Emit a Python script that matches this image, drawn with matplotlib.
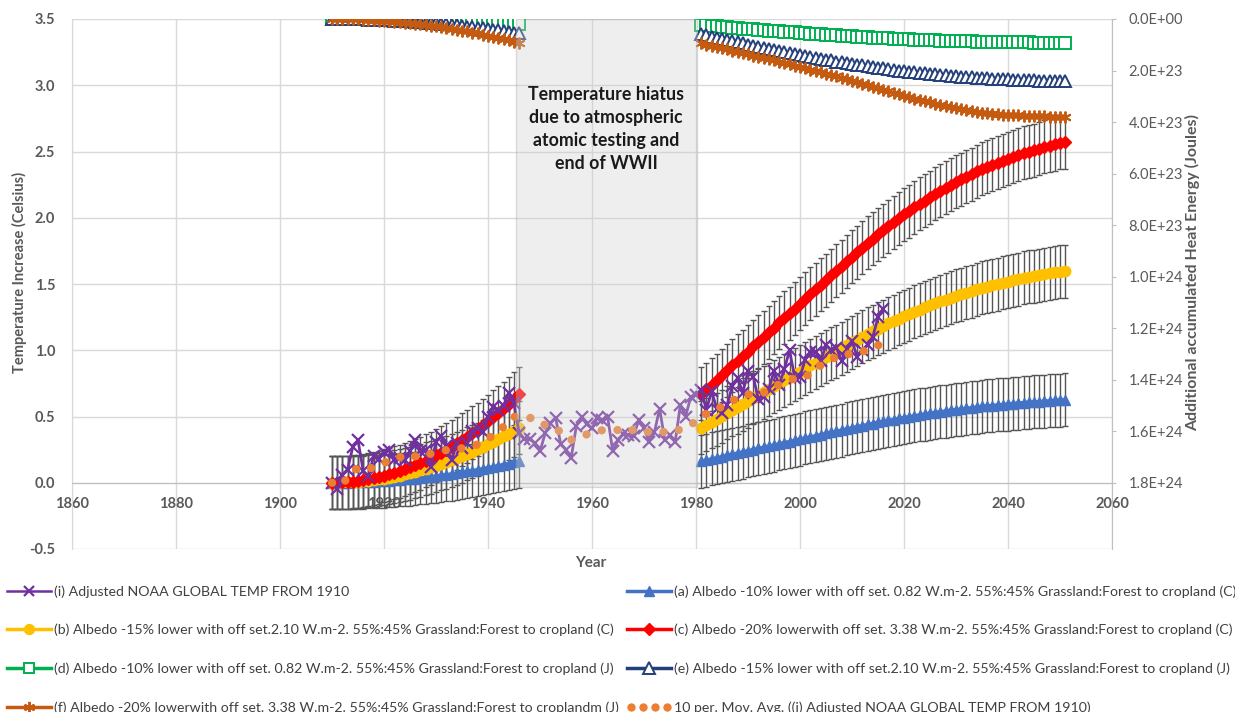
import numpy as np
import pandas as pd
import matplotlib
matplotlib.use("Agg")
import matplotlib.pyplot as plt
from matplotlib.lines import Line2D
from matplotlib.patches import Rectangle
from matplotlib.legend_handler import HandlerLine2D

plt.rcParams['font.family'] = ['Lato', 'DejaVu Sans']

# ------------------------------------------------------------------ data
noaa_years = list(range(1910, 2017))
noaa_temp = [
    0.00, -0.05, 0.06, 0.10, 0.27, 0.32, 0.09, 0.05, 0.20, 0.18,
    0.23, 0.25, 0.17, 0.19, 0.17, 0.24, 0.32, 0.24, 0.25, 0.12,
    0.31, 0.35, 0.28, 0.17, 0.30, 0.26, 0.30, 0.39, 0.41, 0.38,
    0.50, 0.575, 0.55, 0.58, 0.68, 0.60, 0.375, 0.33, 0.33, 0.30,
    0.236, 0.375, 0.45, 0.49, 0.29, 0.25, 0.19, 0.43, 0.50, 0.44,
    0.41, 0.49, 0.47, 0.50, 0.236, 0.32, 0.37, 0.36, 0.35, 0.475,
    0.41, 0.31, 0.38, 0.56, 0.32, 0.36, 0.31, 0.59, 0.50, 0.65,
    0.66, 0.70, 0.55, 0.69, 0.56, 0.53, 0.59, 0.73, 0.79, 0.68,
    0.84, 0.80, 0.63, 0.65, 0.71, 0.84, 0.74, 0.86, 1.00, 0.79,
    0.80, 0.93, 0.99, 0.99, 0.92, 1.04, 1.00, 1.02, 0.92, 1.01,
    1.07, 0.95, 1.00, 1.04, 1.10, 1.25, 1.31,
]
ma_window = 10

model_years_early = list(range(1910, 1947))
model_years_late = list(range(1981, 2052))

# (c) Albedo -20%  (Celsius)
temp_c_early = [
    0.000, 0.001, 0.003, 0.005, 0.008, 0.013, 0.019, 0.025, 0.033, 0.042,
    0.052, 0.063, 0.074, 0.087, 0.101, 0.116, 0.132, 0.149, 0.167, 0.186,
    0.207, 0.228, 0.250, 0.273, 0.298, 0.323, 0.349, 0.377, 0.405, 0.435,
    0.465, 0.497, 0.529, 0.563, 0.598, 0.633, 0.670,
]
temp_c_late = [
    0.670, 0.705, 0.740, 0.775, 0.810, 0.850, 0.885, 0.920, 0.955, 0.990,
    1.030, 1.065, 1.100, 1.135, 1.170, 1.210, 1.245, 1.280, 1.315, 1.350,
    1.390, 1.425, 1.460, 1.495, 1.530, 1.565, 1.600, 1.635, 1.670, 1.705,
    1.740, 1.775, 1.810, 1.840, 1.875, 1.905, 1.935, 1.965, 1.995, 2.025,
    2.050, 2.080, 2.105, 2.130, 2.155, 2.180, 2.205, 2.225, 2.250, 2.270,
    2.290, 2.310, 2.330, 2.350, 2.370, 2.385, 2.400, 2.415, 2.430, 2.445,
    2.460, 2.475, 2.490, 2.500, 2.510, 2.520, 2.535, 2.545, 2.555, 2.565,
    2.570,
]
# (b) Albedo -15%  (Celsius)
temp_b_early = [
    0.000, 0.001, 0.002, 0.003, 0.005, 0.008, 0.012, 0.016, 0.020, 0.026,
    0.032, 0.039, 0.046, 0.054, 0.063, 0.072, 0.082, 0.093, 0.104, 0.116,
    0.129, 0.142, 0.155, 0.170, 0.185, 0.201, 0.217, 0.234, 0.252, 0.270,
    0.289, 0.309, 0.329, 0.350, 0.371, 0.393, 0.416,
]
temp_b_late = [
    0.416, 0.438, 0.460, 0.481, 0.503, 0.528, 0.550, 0.571, 0.593, 0.615,
    0.640, 0.661, 0.683, 0.705, 0.727, 0.751, 0.773, 0.795, 0.817, 0.838,
    0.863, 0.885, 0.907, 0.928, 0.950, 0.972, 0.994, 1.015, 1.037, 1.059,
    1.081, 1.102, 1.124, 1.143, 1.164, 1.183, 1.202, 1.220, 1.239, 1.258,
    1.273, 1.292, 1.307, 1.323, 1.338, 1.354, 1.369, 1.382, 1.397, 1.410,
    1.422, 1.435, 1.447, 1.459, 1.472, 1.481, 1.490, 1.500, 1.509, 1.518,
    1.528, 1.537, 1.546, 1.553, 1.559, 1.565, 1.574, 1.580, 1.587, 1.593,
    1.596,
]
# (a) Albedo -10%  (Celsius)
temp_a_early = [
    0.000, 0.000, 0.001, 0.001, 0.002, 0.003, 0.005, 0.006, 0.008, 0.010,
    0.013, 0.015, 0.018, 0.021, 0.025, 0.028, 0.032, 0.036, 0.041, 0.045,
    0.050, 0.055, 0.061, 0.066, 0.072, 0.078, 0.085, 0.092, 0.098, 0.106,
    0.113, 0.121, 0.129, 0.137, 0.145, 0.154, 0.163,
]
temp_a_late = [
    0.163, 0.171, 0.180, 0.188, 0.197, 0.207, 0.215, 0.224, 0.232, 0.241,
    0.250, 0.259, 0.267, 0.276, 0.284, 0.294, 0.303, 0.311, 0.320, 0.328,
    0.338, 0.346, 0.355, 0.363, 0.372, 0.380, 0.389, 0.397, 0.406, 0.414,
    0.423, 0.431, 0.440, 0.447, 0.456, 0.463, 0.470, 0.477, 0.485, 0.492,
    0.498, 0.505, 0.512, 0.518, 0.524, 0.530, 0.536, 0.541, 0.547, 0.552,
    0.556, 0.561, 0.566, 0.571, 0.576, 0.580, 0.583, 0.587, 0.590, 0.594,
    0.598, 0.601, 0.605, 0.608, 0.610, 0.612, 0.616, 0.618, 0.621, 0.623,
    0.625,
]

ENERGY_UNIT = 1e23  # energy values below are in units of 1E+23 Joules
# (f) Albedo -20% (J)
energy_f_early = [
    0.000, 0.001, 0.004, 0.007, 0.011, 0.018, 0.026, 0.034, 0.046, 0.059,
    0.073, 0.087, 0.102, 0.121, 0.140, 0.161, 0.183, 0.206, 0.232, 0.259,
    0.287, 0.316, 0.347, 0.379, 0.414, 0.448, 0.485, 0.524, 0.562, 0.604,
    0.645, 0.690, 0.735, 0.781, 0.830, 0.879, 0.930,
]
energy_f_late = [
    0.95, 1.00, 1.04, 1.09, 1.13, 1.18, 1.23, 1.27, 1.32, 1.37,
    1.42, 1.46, 1.51, 1.56, 1.61, 1.66, 1.71, 1.76, 1.81, 1.86,
    1.91, 1.97, 2.02, 2.07, 2.12, 2.18, 2.23, 2.29, 2.34, 2.40,
    2.45, 2.51, 2.57, 2.62, 2.68, 2.74, 2.80, 2.86, 2.92, 2.98,
    3.03, 3.09, 3.14, 3.19, 3.24, 3.29, 3.34, 3.38, 3.42, 3.46,
    3.50, 3.54, 3.57, 3.60, 3.63, 3.65, 3.67, 3.69, 3.71, 3.72,
    3.73, 3.74, 3.75, 3.76, 3.77, 3.78, 3.78, 3.79, 3.79, 3.80,
    3.80,
]
# (e) Albedo -15% (J)
energy_e_early = [
    0.000, 0.001, 0.003, 0.004, 0.007, 0.011, 0.016, 0.021, 0.027, 0.035,
    0.044, 0.053, 0.062, 0.073, 0.085, 0.097, 0.110, 0.124, 0.139, 0.156,
    0.173, 0.190, 0.209, 0.228, 0.249, 0.270, 0.292, 0.315, 0.338, 0.363,
    0.389, 0.416, 0.442, 0.470, 0.500, 0.529, 0.560,
]
energy_e_late = [
    0.58, 0.63, 0.68, 0.72, 0.77, 0.81, 0.86, 0.90, 0.95, 0.99,
    1.03, 1.08, 1.12, 1.16, 1.20, 1.24, 1.28, 1.32, 1.36, 1.40,
    1.44, 1.47, 1.51, 1.54, 1.58, 1.61, 1.65, 1.68, 1.71, 1.74,
    1.77, 1.80, 1.83, 1.86, 1.89, 1.92, 1.95, 1.98, 2.00, 2.03,
    2.05, 2.07, 2.09, 2.11, 2.13, 2.15, 2.17, 2.19, 2.21, 2.22,
    2.24, 2.25, 2.27, 2.28, 2.29, 2.30, 2.31, 2.32, 2.33, 2.34,
    2.35, 2.36, 2.37, 2.37, 2.38, 2.39, 2.39, 2.40, 2.40, 2.41,
    2.41,
]
# (d) Albedo -10% (J)
energy_d_early = [
    0.000, 0.000, 0.001, 0.002, 0.003, 0.004, 0.006, 0.008, 0.010, 0.013,
    0.016, 0.020, 0.023, 0.027, 0.032, 0.036, 0.041, 0.047, 0.052, 0.058,
    0.065, 0.071, 0.078, 0.085, 0.093, 0.101, 0.109, 0.118, 0.127, 0.136,
    0.146, 0.156, 0.166, 0.176, 0.188, 0.198, 0.210,
]
energy_d_late = [
    0.22, 0.24, 0.26, 0.28, 0.30, 0.31, 0.33, 0.35, 0.37, 0.38,
    0.40, 0.42, 0.43, 0.45, 0.46, 0.48, 0.49, 0.51, 0.52, 0.54,
    0.55, 0.57, 0.58, 0.59, 0.61, 0.62, 0.63, 0.65, 0.66, 0.67,
    0.68, 0.69, 0.70, 0.72, 0.73, 0.74, 0.75, 0.76, 0.77, 0.78,
    0.79, 0.80, 0.80, 0.81, 0.82, 0.83, 0.84, 0.84, 0.85, 0.86,
    0.86, 0.87, 0.87, 0.88, 0.88, 0.89, 0.89, 0.89, 0.90, 0.90,
    0.91, 0.91, 0.91, 0.91, 0.92, 0.92, 0.92, 0.92, 0.93, 0.93,
    0.93,
]
temp_error = 0.2

hiatus_start, hiatus_end = 1945.3, 1980.2
hiatus_text = "Temperature hiatus\ndue to atmospheric\natomic testing and\nend of WWII"

x_ticks = [1860, 1880, 1900, 1920, 1940, 1960, 1980, 2000, 2020, 2040, 2060]
y_ticks_left = [-0.5, 0.0, 0.5, 1.0, 1.5, 2.0, 2.5, 3.0, 3.5]
y_ticks_right = [0.0, 2e23, 4e23, 6e23, 8e23, 1e24, 1.2e24, 1.4e24, 1.6e24, 1.8e24]

labels = {
    'i': "(i) Adjusted NOAA GLOBAL TEMP FROM 1910",
    'a': "(a) Albedo -10% lower with off set. 0.82 W.m-2. 55%:45% Grassland:Forest to cropland (C)",
    'b': "(b) Albedo -15% lower with off set.2.10 W.m-2. 55%:45% Grassland:Forest to cropland (C)",
    'c': "(c) Albedo -20% lowerwith off set. 3.38 W.m-2. 55%:45% Grassland:Forest to cropland (C)",
    'd': "(d) Albedo -10% lower with off set. 0.82 W.m-2. 55%:45% Grassland:Forest to cropland (J)",
    'e': "(e) Albedo -15% lower with off set.2.10 W.m-2. 55%:45% Grassland:Forest to cropland (J)",
    'f': "(f) Albedo -20% lowerwith off set. 3.38 W.m-2. 55%:45% Grassland:Forest to croplandm (J)",
    'ma': "10 per. Mov. Avg. ((i) Adjusted NOAA GLOBAL TEMP FROM 1910)",
}

# ------------------------------------------------------------------ styles
C_PURPLE = '#7030a0'
C_BLUE = '#4472c4'
C_YELLOW = '#ffc000'
C_RED = '#ff0000'
C_GREEN = '#00b050'
C_NAVY = '#24407a'
C_DORANGE = '#c55a11'
C_MA = '#ed7d31'
C_ERR = '#555555'
C_TXT = '#595959'
C_GRID = '#d9d9d9'

fig = plt.figure(figsize=(12.35, 7.12), dpi=100)
ax = fig.add_axes([72 / 1235, 1 - 549 / 712, (1112 - 72) / 1235, (549 - 19) / 712])
ax2 = ax.twinx()

ax.set_xlim(1860, 2060)
ax.set_ylim(-0.5, 3.5)
ax.set_xticks(x_ticks)
ax.set_yticks(y_ticks_left)
ax.set_yticklabels([f"{v:.1f}" for v in y_ticks_left])
ax.grid(True, color=C_GRID, lw=1)
ax.set_axisbelow(True)
ax.spines['top'].set_visible(False)
ax.spines['right'].set_visible(False)
ax.spines['left'].set_color(C_GRID)
ax.spines['bottom'].set_position(('data', 0))
ax.spines['bottom'].set_color('#bfbfbf')
ax.tick_params(axis='x', length=0, pad=10, labelsize=10.5, labelcolor=C_TXT)
ax.tick_params(axis='y', length=0, pad=12, labelsize=10.5, labelcolor=C_TXT)
for t in ax.get_xticklabels() + ax.get_yticklabels():
    t.set_fontweight('bold')

# right axis: inverted, 0 at top (3.5) and 1.8E24 at 0.0
ax2.set_ylim(1.8e24 * 4.0 / 3.5, 0)
ax2.set_yticks(y_ticks_right)
ax2.set_yticklabels([f"{v:.1E}" for v in y_ticks_right])
for s in ['top', 'left', 'bottom']:
    ax2.spines[s].set_visible(False)
ax2.spines['right'].set_color('#bfbfbf')
ax2.tick_params(axis='y', length=3, color='#bfbfbf', pad=9, labelsize=10.5, labelcolor=C_TXT)

# model temperature series with error bars
temp_series = [
    (temp_a_early, temp_a_late, C_BLUE, '^', 7.5, 'a', 4),
    (temp_b_early, temp_b_late, C_YELLOW, 'o', 7.5, 'b', 5),
    (temp_c_early, temp_c_late, C_RED, 'D', 6.5, 'c', 6),
]
handles = {}
for early, late, col, mk, ms, key, z in temp_series:
    for yrs, vals in ((model_years_early, early), (model_years_late, late)):
        ax.errorbar(yrs, vals, yerr=temp_error, fmt='none', ecolor=C_ERR,
                    elinewidth=1, capsize=2.5, capthick=1, zorder=2.6)
        ln, = ax.plot(yrs, vals, color=col, lw=2.5, marker=mk, ms=ms,
                      markeredgecolor=col, markerfacecolor=col, zorder=z)
    handles[key] = ln

# NOAA temperature
ln, = ax.plot(noaa_years, noaa_temp, color=C_PURPLE, lw=2, marker='x', ms=8,
              markeredgewidth=1.6, zorder=7)
handles['i'] = ln

# 10 period moving average
ma = pd.Series(noaa_temp, index=noaa_years).rolling(ma_window, min_periods=1).mean()
ln, = ax.plot(ma.index, ma.values, color=C_MA, lw=6, linestyle=(0, (0.01, 1.9)),
              dash_capstyle='round', zorder=8)
handles['ma'] = ln

# energy series on the right axis
energy_series = [
    (energy_d_early, energy_d_late, C_GREEN, 's', 8, 'white', 'd'),
    (energy_e_early, energy_e_late, C_NAVY, '^', 8.5, 'white', 'e'),
    (energy_f_early, energy_f_late, C_DORANGE, (6, 2, 0), 8.5, C_DORANGE, 'f'),
]
for early, late, col, mk, ms, fc, key in energy_series:
    for yrs, vals in ((model_years_early, early), (model_years_late, late)):
        ln, = ax2.plot(yrs, np.array(vals) * ENERGY_UNIT, color=col, lw=2,
                       marker=mk, ms=ms, markerfacecolor=fc, markeredgecolor=col,
                       markeredgewidth=1.4, zorder=3)
    handles[key] = ln

# hiatus box (semi-transparent, on top of data)
ax2.add_patch(Rectangle((hiatus_start, -0.03), hiatus_end - hiatus_start, 3.53,
                        transform=ax.transData, facecolor='#cfcfcf', alpha=0.35,
                        edgecolor='#a0a0a0', lw=1, zorder=10))
ax2.text((hiatus_start + hiatus_end) / 2, 2.67, hiatus_text, transform=ax.transData,
         ha='center', va='center', fontsize=12.8, fontweight='bold', color='#1a1a1a',
         linespacing=1.42, zorder=11)

# axis titles
fig.text(19 / 1235, 1 - 272 / 712, "Temperature Increase (Celsius)", rotation=90,
         ha='center', va='center', fontsize=10.5, fontweight='bold', color=C_TXT)
fig.text(1193 / 1235, 1 - 272 / 712, "Additional accumulated Heat Energy (Joules)",
         rotation=90, ha='center', va='center', fontsize=11.5, fontweight='bold', color=C_TXT)
fig.text(591 / 1235, 1 - 563 / 712, "Year", ha='center', va='center', fontsize=11,
         fontweight='bold', color=C_TXT)

# legends
def proxy(key):
    h = handles[key]
    return Line2D([0], [0], color=h.get_color(), lw=2.5 if key != 'i' else 1.8,
                  marker=h.get_marker(), ms=h.get_markersize() * 0.95,
                  markerfacecolor=h.get_markerfacecolor(),
                  markeredgecolor=h.get_markeredgecolor(),
                  markeredgewidth=h.get_markeredgewidth())

ma_proxy = Line2D([0], [0], ls='none', marker='o', ms=5, color=C_MA)
common = dict(frameon=False, fontsize=10.2, handlelength=3.1, handletextpad=0.2,
              labelspacing=1.86, borderpad=0, borderaxespad=0, labelcolor='#404040')
left_keys = ['i', 'b', 'd', 'f']
right_keys = ['a', 'c', 'e']
fig.legend([proxy(k) for k in left_keys], [labels[k] for k in left_keys],
           loc='upper left', bbox_to_anchor=(7 / 1235, 1 - 585 / 712), **common)
fig.legend([proxy(k) for k in right_keys] + [ma_proxy],
           [labels[k] for k in right_keys] + [labels['ma']],
           loc='upper left', bbox_to_anchor=(627 / 1235, 1 - 585 / 712),
           handler_map={ma_proxy: HandlerLine2D(numpoints=4)}, **common)

fig.savefig("out.png", dpi=100)
